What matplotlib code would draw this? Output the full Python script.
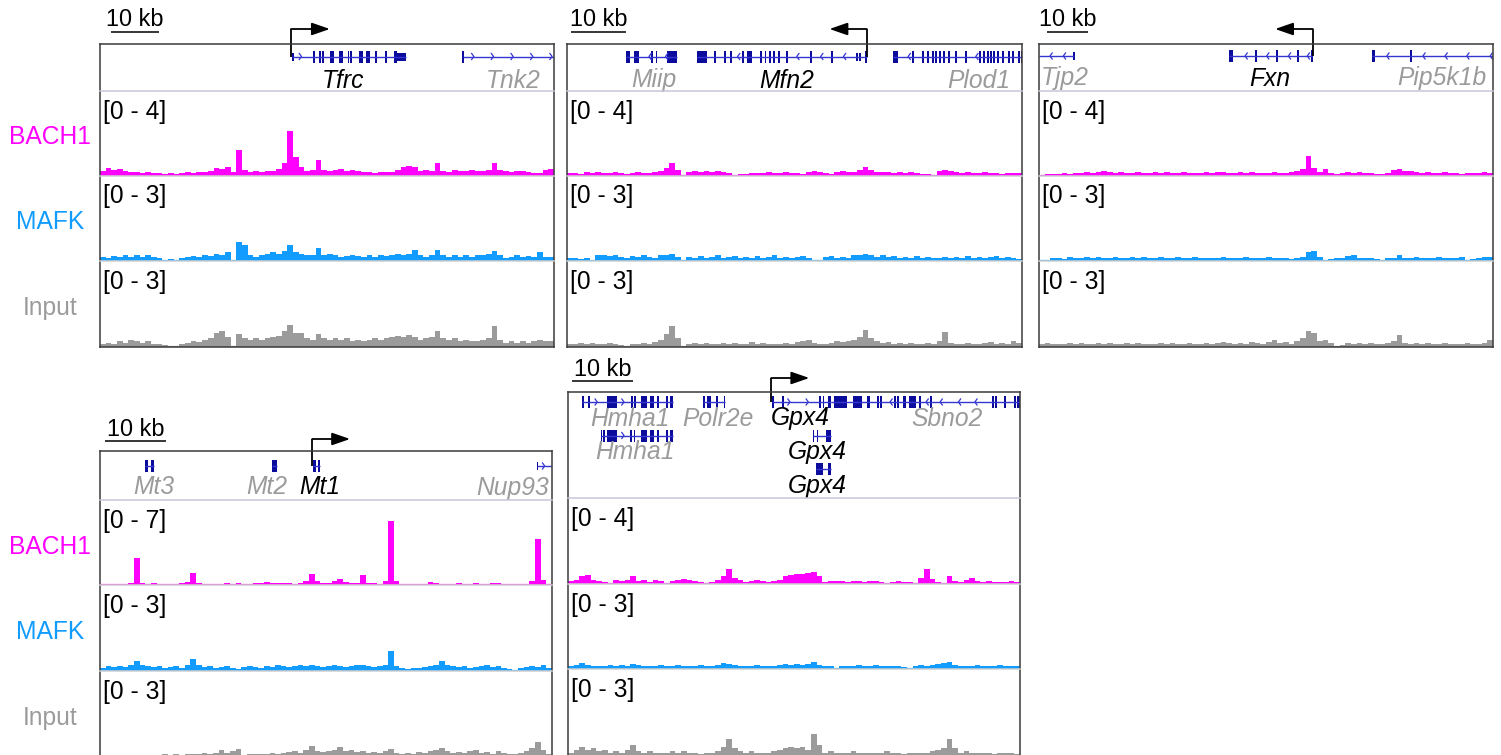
import numpy as np
import matplotlib
matplotlib.use("Agg")
import matplotlib.pyplot as plt
from matplotlib.patches import Rectangle
from matplotlib.lines import Line2D

plt.rcParams['font.family'] = ['Liberation Sans', 'DejaVu Sans']

# ---------------------------------------------------------------- data
TRACK_NAMES = ["BACH1", "MAFK", "Input"]
TRACK_COLORS = ["#FF00FF", "#129CFF", "#9B9B9B"]
LABEL_COLORS = ["#FF00FF", "#129CFF", "#9B9B9B"]

# ---- panel 1 : Tfrc
P1_SPAN = 94.6
P1_RANGES = [4, 3, 3]
P1_TSS = (39.8, 47.9)
P1_BACH1 = [0.20,0.35,0.25,0.30,0.20,0.15,0.18,0.12,0.15,0.10,
            0.12,0.08,0.10,0.05,0.10,0.15,0.12,0.18,0.15,0.20,
            0.35,0.30,0.40,0.15,1.20,0.25,0.15,0.20,0.15,0.22,
            0.20,0.30,0.60,2.10,0.85,0.40,0.20,0.25,0.75,0.25,
            0.20,0.25,0.30,0.20,0.25,0.20,0.15,0.15,0.12,0.15,
            0.15,0.15,0.25,0.40,0.45,0.40,0.20,0.25,0.20,0.60,
            0.20,0.15,0.25,0.20,0.20,0.25,0.20,0.20,0.25,0.60,
            0.25,0.20,0.15,0.20,0.20,0.15,0.10,0.12,0.25,0.30]
P1_MAFK = [0.15,0.10,0.18,0.15,0.20,0.15,0.22,0.15,0.20,0.15,
           0.10,0.05,0.08,0.03,0.10,0.15,0.18,0.15,0.20,0.18,
           0.25,0.22,0.30,0.05,0.65,0.55,0.20,0.15,0.20,0.25,
           0.30,0.25,0.35,0.55,0.30,0.25,0.20,0.20,0.45,0.20,
           0.25,0.20,0.15,0.18,0.20,0.18,0.15,0.20,0.15,0.20,
           0.18,0.20,0.25,0.20,0.25,0.38,0.20,0.15,0.20,0.38,
           0.20,0.15,0.20,0.15,0.20,0.15,0.20,0.20,0.25,0.35,
           0.20,0.10,0.15,0.20,0.15,0.18,0.15,0.33,0.15,0.15]
P1_INPUT = [0.10,0.15,0.12,0.20,0.15,0.25,0.20,0.15,0.20,0.12,
            0.10,0.08,0.05,0.03,0.10,0.15,0.20,0.18,0.25,0.30,
            0.50,0.55,0.35,0.05,0.47,0.30,0.25,0.30,0.25,0.30,
            0.35,0.40,0.55,0.76,0.50,0.50,0.30,0.25,0.45,0.30,
            0.25,0.30,0.25,0.30,0.20,0.25,0.20,0.25,0.30,0.25,
            0.30,0.35,0.40,0.35,0.43,0.35,0.25,0.30,0.35,0.55,
            0.30,0.25,0.30,0.20,0.25,0.20,0.20,0.25,0.30,0.74,
            0.25,0.15,0.20,0.15,0.20,0.15,0.20,0.25,0.20,0.20]
# gene: (name, target, row, start, end, strand, exons, chevrons, label_x)
P1_GENES = [
    ("Tfrc", True, 0, 40.1, 63.67, "+",
     [(40.1, 40.35, 'u'), (44.35, 44.7, 'c'), (45.6, 45.95, 'c'), (46.2, 46.55, 'c'),
      (47.96, 48.71, 'c'), (49.83, 50.58, 'c'), (51.6, 51.95, 'c'), (52.15, 52.5, 'c'),
      (53.96, 54.85, 'c'), (55.44, 56.19, 'c'), (57.4, 57.75, 'c'), (59.45, 59.8, 'c'),
      (61.27, 61.8, 'c'), (61.8, 63.67, 'u')],
     [41.98], 50.6),
    ("Tnk2", False, 0, 75.6, 94.6, "+", [(75.5, 75.85, 'c')],
     [77.9, 82.0, 86.1, 90.2, 94.2], 86.0),
]

# ---- panel 2 : Mfn2
P2_SPAN = 82.7
P2_RANGES = [4, 3, 3]
P2_TSS = (54.49, 47.7)
P2_BACH1 = [0.10,0.12,0.08,0.15,0.10,0.15,0.12,0.10,0.15,0.12,
            0.08,0.12,0.15,0.10,0.12,0.15,0.20,0.35,0.60,0.25,
            0.02,0.15,0.20,0.15,0.20,0.15,0.20,0.15,0.12,0.03,
            0.05,0.08,0.12,0.10,0.12,0.15,0.10,0.12,0.15,0.10,
            0.12,0.05,0.15,0.20,0.15,0.12,0.08,0.15,0.20,0.15,
            0.18,0.25,0.40,0.25,0.15,0.18,0.15,0.12,0.15,0.10,
            0.15,0.10,0.05,0.08,0.03,0.20,0.25,0.20,0.15,0.12,
            0.15,0.10,0.12,0.15,0.10,0.12,0.08,0.10,0.12,0.10]
P2_MAFK = [0.10,0.12,0.08,0.12,0.05,0.20,0.22,0.18,0.20,0.15,
           0.12,0.18,0.15,0.20,0.15,0.12,0.20,0.22,0.25,0.15,
           0.02,0.15,0.12,0.18,0.10,0.15,0.20,0.10,0.15,0.18,
           0.12,0.15,0.10,0.18,0.12,0.15,0.20,0.12,0.15,0.10,
           0.15,0.18,0.12,0.05,0.03,0.15,0.18,0.12,0.15,0.10,
           0.20,0.22,0.26,0.20,0.15,0.20,0.15,0.18,0.12,0.15,
           0.10,0.18,0.12,0.15,0.10,0.12,0.15,0.10,0.15,0.12,
           0.18,0.12,0.15,0.10,0.15,0.18,0.12,0.15,0.10,0.08]
P2_INPUT = [0.12,0.10,0.15,0.12,0.15,0.10,0.12,0.15,0.12,0.08,
            0.05,0.10,0.12,0.15,0.12,0.18,0.25,0.45,0.74,0.30,
            0.02,0.12,0.15,0.12,0.15,0.10,0.12,0.15,0.12,0.15,
            0.10,0.12,0.18,0.12,0.15,0.12,0.10,0.12,0.15,0.12,
            0.18,0.20,0.25,0.15,0.12,0.10,0.15,0.20,0.18,0.20,
            0.25,0.35,0.58,0.30,0.20,0.15,0.18,0.12,0.15,0.12,
            0.15,0.10,0.12,0.15,0.10,0.20,0.53,0.15,0.10,0.12,
            0.15,0.12,0.10,0.15,0.18,0.12,0.15,0.10,0.20,0.15]
P2_GENES = [
    ("Miip", False, 0, 10.73, 20.05, "-",
     [(10.73, 11.45, 'c'), (12.18, 13.15, 'c'), (15.3, 15.55, 'c'), (16.1, 16.35, 'c'),
      (18.24, 20.05, 'c')],
     [14.9, 17.9], 15.7),
    ("Mfn2", True, 0, 23.58, 54.49, "-",
     [(23.58, 25.4, 'c'), (26.8, 27.05, 'c'), (28.6, 28.85, 'c'), (29.65, 29.9, 'c'),
      (31.76, 32.05, 'c'), (32.67, 33.58, 'c'), (35.1, 35.35, 'c'), (35.9, 36.15, 'c'),
      (36.7, 36.95, 'c'), (37.4, 37.65, 'c'), (38.3, 38.55, 'c'), (39.8, 40.1, 'c'),
      (44.2, 44.45, 'c'), (48.0, 48.25, 'c'), (52.55, 52.8, 'u'), (53.15, 53.4, 'u'),
      (54.2, 54.49, 'c')],
     [31.0, 41.76, 46.1, 50.24], 39.95),
    ("Plod1", False, 0, 59.33, 82.7, "-",
     [(59.33, 60.24, 'c'), (62.67, 62.95, 'c'), (64.49, 64.75, 'c'), (65.4, 65.65, 'c'),
      (66.31, 66.55, 'c'), (66.91, 67.15, 'c'), (67.69, 67.95, 'c'), (68.42, 68.67, 'c'),
      (69.33, 69.64, 'c'), (70.55, 70.85, 'c'), (72.36, 72.6, 'c'), (74.96, 75.2, 'c'),
      (75.69, 75.95, 'c'), (76.31, 76.55, 'c'), (76.91, 77.15, 'c'), (77.51, 77.75, 'c'),
      (78.13, 78.4, 'c'), (79.04, 79.3, 'c'), (80.24, 80.5, 'c'), (80.85, 81.1, 'c'),
      (82.05, 82.3, 'c'), (82.45, 82.7, 'c')],
     [62.0, 74.3], 74.8),
]

# ---- panel 3 : Fxn
P3_SPAN = 110.7
P3_RANGES = [4, 3, 3]
P3_TSS = (66.76, 57.56)
P3_BACH1 = [0.03,0.05,0.08,0.05,0.10,0.08,0.12,0.10,0.15,0.12,
            0.18,0.20,0.15,0.12,0.15,0.10,0.12,0.15,0.12,0.10,
            0.15,0.12,0.15,0.10,0.12,0.15,0.12,0.10,0.12,0.15,
            0.12,0.18,0.15,0.12,0.10,0.15,0.12,0.15,0.12,0.10,
            0.12,0.15,0.10,0.12,0.15,0.20,0.30,0.94,0.35,0.15,
            0.30,0.10,0.05,0.12,0.15,0.10,0.15,0.12,0.10,0.08,
            0.05,0.12,0.25,0.30,0.22,0.20,0.15,0.12,0.15,0.10,
            0.12,0.15,0.10,0.12,0.08,0.12,0.10,0.12,0.15,0.12]
P3_MAFK = [0.03,0.05,0.12,0.10,0.08,0.15,0.12,0.10,0.15,0.12,
           0.15,0.10,0.12,0.15,0.12,0.10,0.15,0.12,0.15,0.10,
           0.12,0.15,0.12,0.10,0.15,0.12,0.10,0.15,0.12,0.10,
           0.12,0.10,0.15,0.12,0.10,0.12,0.15,0.12,0.10,0.12,
           0.15,0.12,0.10,0.12,0.08,0.10,0.15,0.30,0.35,0.15,
           0.02,0.08,0.10,0.12,0.18,0.20,0.12,0.10,0.12,0.08,
           0.05,0.10,0.12,0.20,0.12,0.10,0.15,0.12,0.10,0.12,
           0.15,0.12,0.10,0.12,0.15,0.05,0.08,0.12,0.15,0.15]
P3_INPUT = [0.12,0.15,0.12,0.10,0.12,0.15,0.12,0.15,0.10,0.12,
            0.15,0.12,0.15,0.12,0.10,0.15,0.12,0.15,0.12,0.10,
            0.12,0.15,0.12,0.15,0.10,0.12,0.15,0.12,0.10,0.15,
            0.12,0.15,0.18,0.15,0.12,0.15,0.12,0.18,0.15,0.12,
            0.18,0.23,0.15,0.18,0.12,0.20,0.30,0.56,0.50,0.20,
            0.25,0.15,0.05,0.08,0.15,0.12,0.15,0.12,0.15,0.10,
            0.12,0.15,0.20,0.43,0.15,0.12,0.15,0.12,0.15,0.12,
            0.10,0.15,0.12,0.10,0.12,0.15,0.12,0.10,0.15,0.25]
P3_GENES = [
    ("Tjp2", False, 0, 0.0, 8.54, "-", [(8.3, 8.54, 'u')], [2.68, 5.93], 6.4),
    ("Fxn", True, 0, 46.41, 66.6, "-",
     [(46.41, 47.24, 'c'), (52.6, 52.85, 'c'), (57.9, 58.15, 'c'), (62.9, 63.15, 'c'),
      (66.25, 66.5, 'c')],
     [50.24, 55.5, 60.8, 65.4], 56.2),
    ("Pip5k1b", False, 0, 81.15, 110.7, "-", [(81.15, 81.95, 'c'), (90.4, 90.65, 'c')],
     [84.8, 93.6, 99.0, 104.3, 110.0], 98.2),
]

# ---- panel 4 : Mt1
P4_SPAN = 74.1
P4_RANGES = [7, 3, 3]
P4_TSS = (34.8, 41.0)
P4_BACH1 = [0.05,0.08,0.05,0.10,0.05,0.15,2.25,0.20,0.08,0.15,
            0.10,0.05,0.10,0.08,0.15,0.25,1.00,0.20,0.05,0.10,
            0.08,0.12,0.15,0.10,0.20,0.12,0.10,0.15,0.20,0.25,
            0.20,0.15,0.20,0.15,0.10,0.15,0.30,0.90,0.30,0.15,
            0.20,0.30,0.50,0.25,0.20,0.15,0.83,0.15,0.20,0.10,
            0.30,5.30,0.30,0.10,0.05,0.08,0.05,0.10,0.25,0.15,
            0.10,0.12,0.10,0.15,0.12,0.10,0.15,0.12,0.10,0.15,
            0.20,0.10,0.08,0.05,0.08,0.10,0.30,3.80,0.40,0.10]
P4_MAFK = [0.10,0.15,0.12,0.15,0.12,0.20,0.35,0.20,0.15,0.12,
           0.15,0.10,0.12,0.15,0.10,0.20,0.39,0.20,0.12,0.15,
           0.10,0.12,0.15,0.10,0.05,0.12,0.15,0.12,0.10,0.15,
           0.12,0.18,0.15,0.12,0.15,0.18,0.15,0.20,0.15,0.12,
           0.15,0.18,0.15,0.12,0.15,0.18,0.20,0.15,0.12,0.15,
           0.20,0.70,0.15,0.10,0.05,0.08,0.10,0.12,0.15,0.20,
           0.35,0.20,0.15,0.12,0.15,0.10,0.12,0.15,0.20,0.12,
           0.15,0.10,0.05,0.03,0.10,0.12,0.15,0.12,0.20,0.10]
P4_INPUT = [0.05,0.08,0.05,0.06,0.08,0.05,0.06,0.03,0.05,0.02,
            0.08,0.10,0.08,0.10,0.08,0.10,0.12,0.10,0.15,0.12,
            0.15,0.25,0.15,0.20,0.28,0.05,0.10,0.12,0.10,0.12,
            0.15,0.12,0.15,0.18,0.20,0.15,0.25,0.37,0.20,0.18,
            0.20,0.25,0.33,0.20,0.25,0.18,0.20,0.15,0.18,0.15,
            0.20,0.28,0.15,0.12,0.15,0.12,0.18,0.15,0.20,0.25,
            0.32,0.20,0.15,0.18,0.15,0.20,0.25,0.15,0.18,0.12,
            0.20,0.15,0.10,0.12,0.15,0.20,0.30,0.52,0.25,0.10]
P4_GENES = [
    ("Mt3", False, 0, 7.44, 8.79, "-", [(7.44, 7.85, 'c'), (8.44, 8.79, 'c')], [], 8.85),
    ("Mt2", False, 0, 28.2, 29.0, "+", [(28.2, 29.0, 'c')], [], 27.4),
    ("Mt1", True, 0, 34.98, 36.1, "+", [(34.98, 35.39, 'c'), (35.67, 36.1, 'c')], [], 35.97),
    ("Nup93", False, 0, 71.57, 74.1, "+", [(71.57, 71.8, 'u')], [72.9], 67.6),
]

# ---- panel 5 : Gpx4
P5_SPAN = 74.1
P5_RANGES = [4, 3, 3]
P5_TSS = (33.33, 39.56)
P5_BACH1 = [0.15,0.20,0.35,0.40,0.20,0.15,0.10,0.05,0.20,0.15,
            0.20,0.35,0.15,0.20,0.10,0.20,0.15,0.05,0.15,0.20,
            0.25,0.20,0.15,0.10,0.05,0.10,0.20,0.35,0.70,0.30,
            0.20,0.10,0.15,0.20,0.15,0.10,0.15,0.20,0.35,0.40,
            0.45,0.45,0.50,0.55,0.35,0.10,0.15,0.12,0.15,0.10,
            0.12,0.15,0.10,0.12,0.15,0.10,0.05,0.10,0.15,0.08,
            0.10,0.05,0.30,0.70,0.25,0.10,0.05,0.35,0.15,0.10,
            0.20,0.30,0.15,0.10,0.12,0.10,0.08,0.10,0.12,0.10]
P5_MAFK = [0.12,0.15,0.20,0.15,0.12,0.10,0.12,0.15,0.12,0.15,
           0.12,0.18,0.15,0.12,0.10,0.12,0.15,0.12,0.10,0.15,
           0.12,0.10,0.12,0.15,0.10,0.12,0.15,0.20,0.18,0.15,
           0.12,0.10,0.12,0.15,0.12,0.10,0.12,0.15,0.18,0.15,
           0.18,0.15,0.18,0.26,0.15,0.12,0.10,0.03,0.12,0.10,
           0.12,0.15,0.10,0.12,0.15,0.12,0.10,0.12,0.10,0.08,
           0.05,0.12,0.15,0.12,0.15,0.18,0.20,0.26,0.15,0.12,
           0.10,0.12,0.15,0.12,0.10,0.12,0.15,0.12,0.10,0.12]
P5_INPUT = [0.15,0.25,0.35,0.25,0.30,0.20,0.25,0.15,0.20,0.15,
            0.25,0.40,0.20,0.15,0.20,0.15,0.12,0.15,0.20,0.15,
            0.22,0.15,0.12,0.10,0.15,0.12,0.20,0.35,0.60,0.30,
            0.20,0.15,0.20,0.15,0.12,0.15,0.20,0.25,0.30,0.35,
            0.30,0.35,0.25,0.78,0.40,0.15,0.20,0.15,0.12,0.15,
            0.20,0.15,0.12,0.15,0.12,0.15,0.20,0.15,0.12,0.10,
            0.12,0.15,0.12,0.15,0.20,0.25,0.30,0.60,0.30,0.15,
            0.20,0.15,0.12,0.15,0.12,0.10,0.15,0.12,0.15,0.10]
P5_GENES = [
    ("Hmha1", False, 0, 2.25, 17.26, "+",
     [(2.25, 2.62, 'c'), (3.23, 3.61, 'c'), (6.34, 7.98, 'c'), (10.35, 10.6, 'c'),
      (10.9, 11.15, 'c'), (11.97, 13.0, 'c'), (13.44, 14.1, 'c'), (14.64, 14.97, 'c'),
      (16.1, 16.35, 'c'), (16.72, 17.26, 'c')],
     [4.8, 9.18], 10.16),
    ("Polr2e", False, 0, 22.08, 25.74, "-",
     [(22.08, 22.46, 'c'), (22.74, 23.39, 'c'), (24.3, 24.55, 'c'), (25.5, 25.74, 'c')],
     [], 24.64),
    ("Gpx4", True, 0, 33.44, 43.07, "+",
     [(33.44, 33.7, 'c'), (35.1, 35.3, 'c'), (41.2, 41.43, 'c'), (41.75, 41.95, 'c'),
      (42.67, 43.07, 'c')],
     [36.4, 39.4], 38.03),
    ("Sbno2", False, 0, 43.07, 74.1, "-",
     [(43.6, 45.79, 'c'), (46.67, 48.15, 'c'), (48.97, 49.51, 'c'), (50.61, 50.87, 'c'),
      (51.15, 51.43, 'c'), (53.5, 53.7, 'c'), (53.9, 54.15, 'c'), (54.87, 55.41, 'c'),
      (55.85, 57.05, 'c'), (57.5, 57.7, 'c'), (59.4, 59.6, 'c'), (69.5, 69.7, 'c'),
      (70.05, 70.33, 'c'), (71.5, 71.7, 'c'), (73.15, 73.35, 'c'), (73.65, 74.1, 'c')],
     [52.79, 58.7, 61.0, 64.0, 66.7], 62.08),
    ("Hmha1", False, 1, 5.36, 17.26, "+",
     [(5.36, 5.6, 'c'), (5.8, 6.0, 'c'), (6.34, 7.98, 'c'), (10.2, 10.45, 'c'),
      (10.75, 11.0, 'c'), (11.97, 13.0, 'c'), (13.44, 14.1, 'c'), (14.64, 14.97, 'c'),
      (16.1, 16.35, 'c'), (16.72, 17.26, 'c')],
     [9.18], 10.98),
    ("Gpx4", True, 1, 40.11, 43.07, "+",
     [(40.11, 40.33, 'c'), (40.77, 41.03, 'c'), (42.3, 43.07, 'c')], [], 40.93),
    ("Gpx4", True, 2, 40.66, 43.07, "+",
     [(40.66, 41.85, 'c'), (42.67, 43.07, 'c')], [], 40.93),
]

# ---------------------------------------------------------------- layout (pixels)
W, H = 1501, 755
TOP = dict(yg=43.5, yt=[90.5, 175.5, 261.0, 347.0])
LAYOUT = [
    dict(x0=100, x1=554, **TOP, gene_y=[13], name_y=[44.5], sb0=2.2, sb_y=-12, tss_y=-14.5, side=True),
    dict(x0=567, x1=1022, **TOP, gene_y=[13], name_y=[44], sb0=0.73, sb_y=-12, tss_y=-14.5, side=False),
    dict(x0=1039, x1=1493, **TOP, gene_y=[12.5], name_y=[42], sb0=1.95, sb_y=-12, tss_y=-14.5, side=False),
    dict(x0=100, x1=552, yg=451, yt=[500, 585, 670.5, 757], gene_y=[15], name_y=[43.5],
         sb0=0.82, sb_y=-10, tss_y=-12, side=True),
    dict(x0=568, x1=1020, yg=392, yt=[498, 584, 669, 757], gene_y=[10, 43.5, 77],
         name_y=[33.5, 67.5, 101.5], sb0=0.66, sb_y=-11.5, tss_y=-14, side=False),
]
PANELS = [
    (P1_SPAN, P1_GENES, P1_TSS, [P1_BACH1, P1_MAFK, P1_INPUT], P1_RANGES),
    (P2_SPAN, P2_GENES, P2_TSS, [P2_BACH1, P2_MAFK, P2_INPUT], P2_RANGES),
    (P3_SPAN, P3_GENES, P3_TSS, [P3_BACH1, P3_MAFK, P3_INPUT], P3_RANGES),
    (P4_SPAN, P4_GENES, P4_TSS, [P4_BACH1, P4_MAFK, P4_INPUT], P4_RANGES),
    (P5_SPAN, P5_GENES, P5_TSS, [P5_BACH1, P5_MAFK, P5_INPUT], P5_RANGES),
]

FS = 17.7
EXON_C = "#0B0B9C"
LINE_C = "#3535D2"
GRAY = "#9B9B9B"

fig = plt.figure(figsize=(W / 100, H / 100), dpi=100)


def rect(x0, y0, x1, y1):
    return [x0 / W, 1 - y1 / H, (x1 - x0) / W, (y1 - y0) / H]


def hline(x0, x1, y, color, lw):
    fig.add_artist(Line2D([x0 / W, x1 / W], [1 - y / H, 1 - y / H],
                          transform=fig.transFigure, color=color, lw=lw, zorder=5))


for lay, (span, genes, tss, signals, ranges) in zip(LAYOUT, PANELS):
    x0, x1, yg = lay["x0"], lay["x1"], lay["yg"]
    yt = lay["yt"]
    ppk = (x1 - x0) / span

    # ---- gene track
    gh = yt[0] - yg
    gax = fig.add_axes(rect(x0, yg, x1, yt[0]))
    gax.set_xlim(0, span)
    gax.set_ylim(gh, 0)
    gax.axis("off")
    for (name, target, row, gs, ge, strand, exons, chevs, lx) in genes:
        gy = lay["gene_y"][row]
        gax.plot([gs, ge], [gy, gy], color=LINE_C, lw=1.0, solid_capstyle="butt")
        dx = 2.2 / ppk
        for c in chevs:
            sgn = 1 if strand == "+" else -1
            gax.plot([c - sgn * dx, c, c - sgn * dx], [gy - 3, gy, gy + 3],
                     color=LINE_C, lw=0.9, clip_on=False)
        for (s, e, kind) in exons:
            h = 12 if kind == 'c' else 8
            w = max(e - s, 1.8 / ppk)
            gax.add_patch(Rectangle((s, gy - h / 2), w, h, facecolor=EXON_C,
                                    edgecolor="none", clip_on=False))
        gax.text(lx, lay["name_y"][row], name, style="italic", fontsize=FS,
                 color="black" if target else GRAY, ha="center", va="baseline")
    # TSS arrow
    t0, t1 = tss
    gy0 = lay["gene_y"][0]
    gax.plot([t0, t0], [gy0, lay["tss_y"]], color="black", lw=1.3, clip_on=False,
             solid_capstyle="butt")
    gax.annotate("", xy=(t1, lay["tss_y"]), xytext=(t0, lay["tss_y"]),
                 arrowprops=dict(arrowstyle="-|>,head_length=1.1,head_width=0.38",
                                 color="black", lw=1.3, shrinkA=0, shrinkB=0),
                 annotation_clip=False)
    # scale bar
    sb0 = lay["sb0"]
    gax.plot([sb0, sb0 + 10], [lay["sb_y"], lay["sb_y"]], color="black", lw=1.1,
             clip_on=False, solid_capstyle="butt")
    gax.text(sb0 + 5, lay["sb_y"] - 5, "10 kb", fontsize=FS - 0.8, ha="center",
             va="baseline", color="black")

    # ---- signal tracks
    for k in range(3):
        ya, yb = yt[k], yt[k + 1]
        ax = fig.add_axes(rect(x0, ya, x1, yb))
        vals = np.asarray(signals[k], dtype=float)
        n = len(vals)
        edges = np.linspace(0, span, n + 1)
        ax.stairs(vals, edges, fill=True, color=TRACK_COLORS[k], lw=0)
        ax.axhline(0, color=TRACK_COLORS[k], lw=1.6)
        ax.set_xlim(0, span)
        ax.set_ylim(0, ranges[k])
        ax.axis("off")
        fig.text((x0 + 3) / W, 1 - (ya + 28) / H, f"[0 - {ranges[k]}]",
                 fontsize=FS, ha="left", va="baseline", color="black")
        if lay["side"]:
            fig.text(50 / W, 1 - ((ya + yb) / 2 + 4) / H, TRACK_NAMES[k],
                     fontsize=FS, ha="center", va="center", color=LABEL_COLORS[k])

    # separators
    hline(x0, x1, yt[0], "#C9C6DA", 1.1)
    hline(x0, x1, yt[1], "#D0D0D0", 1.1)
    hline(x0, x1, yt[2], "#D0D0D0", 1.1)

    # frame
    fax = fig.add_axes(rect(x0, yg, x1, yt[3]))
    fax.set_xticks([])
    fax.set_yticks([])
    fax.patch.set_alpha(0)
    for sp in fax.spines.values():
        sp.set_color("#3A3A3A")
        sp.set_linewidth(1.1)

fig.savefig("out.png", dpi=100)
